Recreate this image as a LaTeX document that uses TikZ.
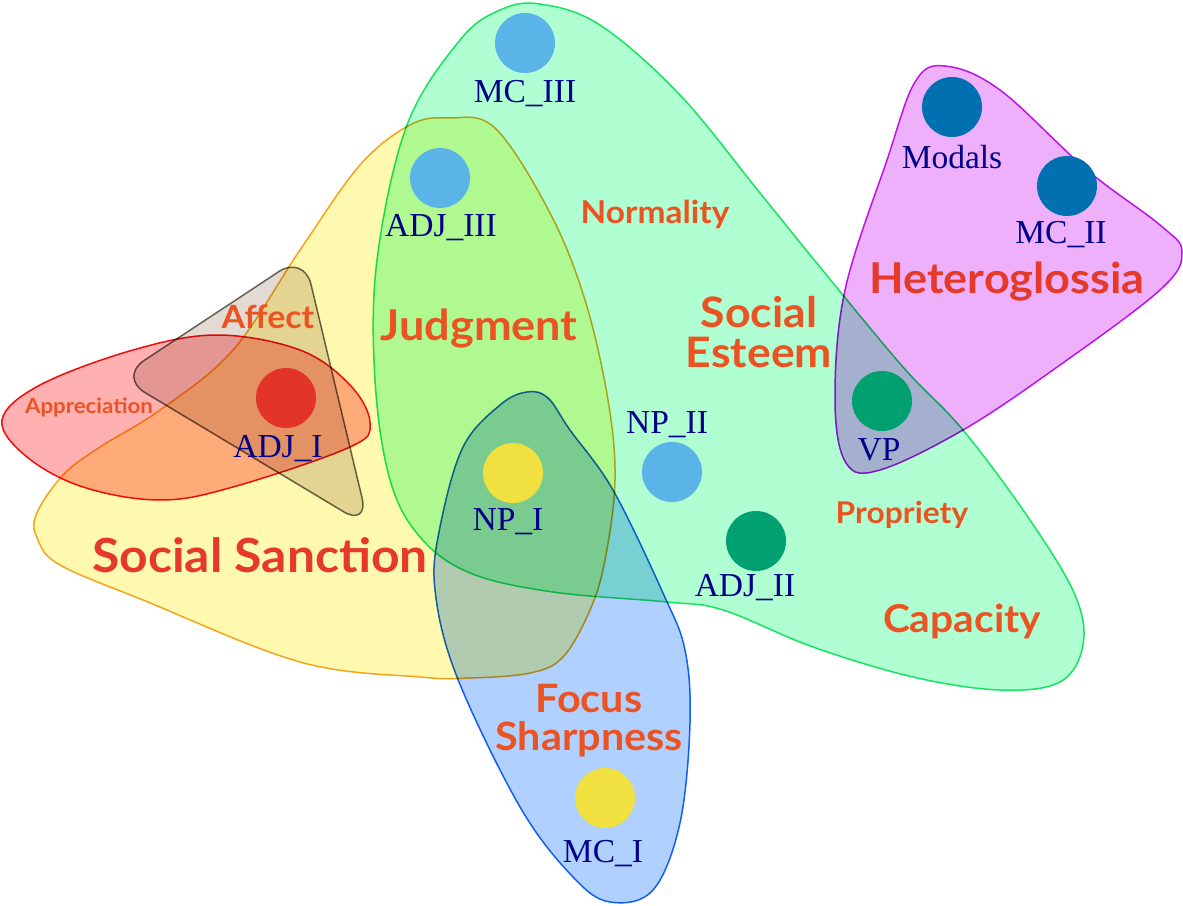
\documentclass[tikz,border=0pt]{standalone}
\usepackage{fontspec}
\usepackage{graphicx}
\setmainfont{Liberation Serif}
\newfontfamily\labfont{Lato}
\definecolor{yelfill}{HTML}{FFF9B0}
\definecolor{yelline}{HTML}{F5A623}
\definecolor{grnfill}{HTML}{B0FFD2}
\definecolor{grnline}{HTML}{1EE36A}
\definecolor{redfill}{HTML}{FFB0B0}
\definecolor{redline}{HTML}{EE1111}
\definecolor{gryfill}{HTML}{E4DAD4}
\definecolor{gryline}{HTML}{6E6A60}
\definecolor{blufill}{HTML}{B0D0FF}
\definecolor{bluline}{HTML}{1A6AF0}
\definecolor{magfill}{HTML}{EFB0FB}
\definecolor{magline}{HTML}{C21AF0}
\definecolor{ltblue}{HTML}{5AB4E8}
\definecolor{dkblue}{HTML}{0070B0}
\definecolor{dotred}{HTML}{E33428}
\definecolor{dotyel}{HTML}{F0E040}
\definecolor{dotgrn}{HTML}{00A070}
\definecolor{navy}{HTML}{000088}
\definecolor{catorange}{HTML}{EB5322}
\definecolor{catred}{HTML}{E53A2A}
\newcommand{\wide}[1]{\scalebox{1.06}[1]{#1}}
\tikzset{
  blob/.style={blend mode=multiply, line width=1.5pt},
  dot/.style={circle, fill=#1, minimum size=60pt, inner sep=0pt},
  lbl/.style={anchor=base, text=navy, inner sep=0pt, font=\fontsize{33.5}{36}\selectfont},
  cat/.style={anchor=base, text=catorange, inner sep=0pt, align=center},
}
\begin{document}
\begin{tikzpicture}[x=1pt,y=-1pt]
\useasboundingbox (0,0) rectangle (1183,905);
% Social Sanction (yellow)
\path[blob, fill=yelfill, draw=yelline] plot[smooth cycle, tension=0.6] coordinates {
 (36,515) (63,475) (100,447) (160,410) (233,350) (300,250) (360,165) (410,125) (448,118) (495,128)
 (550,213) (585,300) (608,400) (615,480) (605,560) (590,610) (563,657) (530,673) (470,678)
 (420,677) (300,662) (143,600) (60,565) (38,540)};
% Social Esteem (green)
\path[blob, fill=grnfill, draw=grnline] plot[smooth cycle, tension=0.6] coordinates {
 (540,4) (600,25) (680,95) (760,193) (820,267) (903,367) (963,430) (1030,520) (1075,595)
 (1083,645) (1060,682) (1000,690) (913,677) (813,647) (723,610) (667,602) (553,592)
 (470,573) (420,537) (390,480) (375,380) (377,260) (407,125) (460,40) (500,10)};
% Appreciation (red)
\path[blob, fill=redfill, draw=redline] plot[smooth cycle, tension=0.6] coordinates {
 (2,420) (40,385) (133,350) (217,335) (300,350) (350,385) (370,423) (350,447) (233,487)
 (160,500) (83,487) (27,457)};
% Affect (gray)
\path[blob, fill=gryfill, draw=gryline, rounded corners=30pt]
 (304,255) -- (119,377) -- (369,527) -- cycle;
% Focus Sharpness (blue)
\path[blob, fill=blufill, draw=bluline] plot[smooth cycle, tension=0.6] coordinates {
 (527,392) (500,405) (463,447) (440,527) (435,590) (457,677) (520,807) (573,877) (610,902)
 (653,890) (680,823) (690,723) (685,650) (663,593) (613,490) (570,430) (548,398)};
% Heteroglossia (magenta)
\path[blob, fill=magfill, draw=magline] plot[smooth cycle, tension=0.6] coordinates {
 (945,66) (1000,90) (1087,170) (1160,225) (1182,252) (1160,290) (1053,370) (963,430)
 (880,470) (846,463) (835,400) (845,290) (887,160) (915,82)};
% dots
\node[dot=ltblue] (mc3) at (525,43) {};
\node[dot=ltblue] (adj3) at (440,178) {};
\node[dot=dkblue] (modals) at (952,107) {};
\node[dot=dkblue] (mc2) at (1067,186) {};
\node[dot=dotred] (adj1) at (286,398) {};
\node[dot=dotyel] (np1) at (513,473) {};
\node[dot=ltblue] (np2) at (672,472) {};
\node[dot=dotgrn] (adj2) at (756,541) {};
\node[dot=dotgrn] (vp) at (882,401) {};
\node[dot=dotyel] (mc1) at (605,798) {};
% dot labels
\node[lbl] (mc3l) at (525,102) {MC\_III};
\node[lbl] (adj3l) at (441,236) {ADJ\_III};
\node[lbl] (modalsl) at (952,168) {Modals};
\node[lbl] (mc2l) at (1061,243) {MC\_II};
\node[lbl] (adj1l) at (278,457) {ADJ\_I};
\node[lbl] (np1l) at (508,530) {NP\_I};
\node[lbl] (np2l) at (667,433) {NP\_II};
\node[lbl] (adj2l) at (745,596) {ADJ\_II};
\node[lbl] (vpl) at (879,460) {VP};
\node[lbl] (mc1l) at (603,862) {MC\_I};
% category labels
\node[cat, font=\labfont\bfseries\fontsize{21}{24}\selectfont] (appr) at (89,413) {\wide{Appreciation}};
\node[cat, font=\labfont\bfseries\fontsize{32}{36}\selectfont] (affect) at (268,328) {\wide{Affect}};
\node[cat, font=\labfont\bfseries\fontsize{42.5}{46}\selectfont] (judg) at (479,340) {\wide{Judgment}};
\node[cat, font=\labfont\bfseries\fontsize{31.5}{36}\selectfont] (norm) at (655,223) {\wide{Normality}};
\node[cat, anchor=center, font=\labfont\bfseries\fontsize{42}{40}\selectfont] (socest) at (759,332) {\wide{Social}\\\wide{Esteem}};
\node[cat, text=catred, font=\labfont\bfseries\fontsize{42.5}{46}\selectfont] (het) at (1007,293) {\wide{Heteroglossia}};
\node[cat, text=catred, font=\labfont\bfseries\fontsize{47}{50}\selectfont] (sanc) at (260,572) {\wide{Social Sanction}};
\node[cat, font=\labfont\bfseries\fontsize{30}{34}\selectfont] (prop) at (902,523) {\wide{Propriety}};
\node[cat, font=\labfont\bfseries\fontsize{38.4}{42}\selectfont] (cap) at (962,632) {\wide{Capacity}};
\node[cat, anchor=center, font=\labfont\bfseries\fontsize{39}{38}\selectfont] (focsharp) at (589,721) {\wide{Focus}\\\wide{Sharpness}};
\end{tikzpicture}
\end{document}
